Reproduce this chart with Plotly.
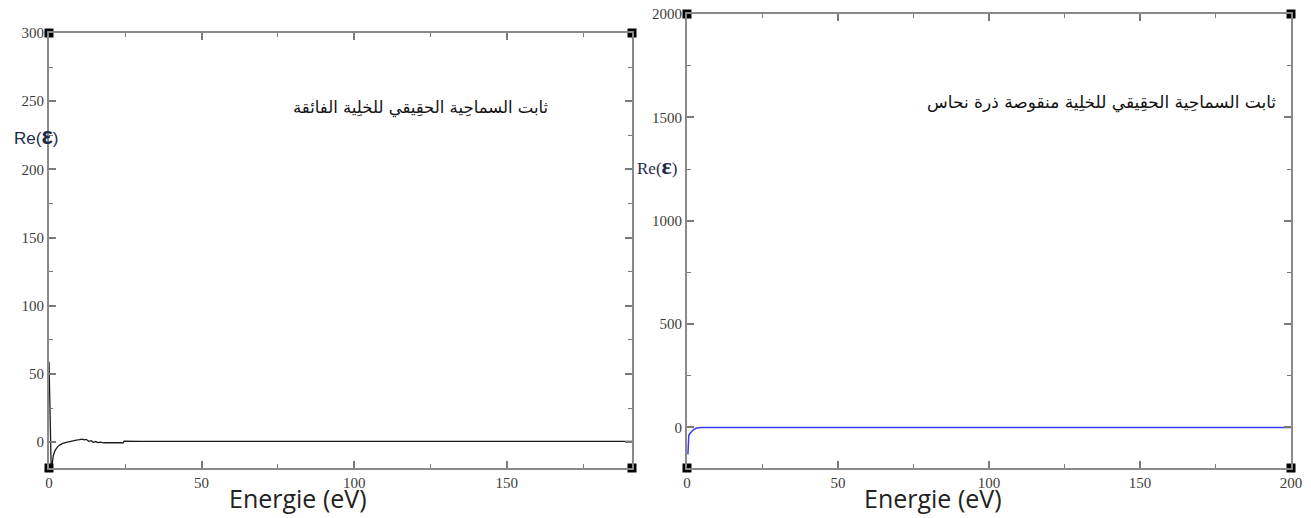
import plotly.graph_objects as go

# Real part of the dielectric function, supercell (left panel)
energy_super = [0, 0.15, 0.3, 0.5, 0.8, 1.0, 1.4, 2.0, 2.8, 3.6, 4.5, 6, 7, 8, 9, 10, 10.8, 11.5, 12.2,
                13, 13.8, 14.5, 15.3, 16, 16.8, 18, 20, 22, 24.3, 24.6, 30, 60, 100, 150, 191]
re_eps_super = [59, 42, 12, -22, -28, -17, -10, -6, -3.5, -2, -1, 0, 0.6, 1.0, 1.5, 1.8, 2.2, 1.6, 2.0,
                0.6, 1.0, -0.2, 0.4, -0.4, 0.0, -0.5, -0.4, -0.5, -0.5, 0.6, 0.5, 0.5, 0.5, 0.5, 0.5]

# Real part of the dielectric function, cell with one Cu vacancy (right panel)
energy_vac = [0.3, 0.35, 0.6, 1.0, 1.5, 2.2, 3.2, 4.0, 4.8, 6, 10, 50, 100, 150, 200]
re_eps_vac = [-130, -48, -38, -28, -18, -10, -3, -1, 0, 0, 0, 0, 0, 0, 0]

x_ticks_left = [0, 50, 100, 150]
y_ticks_left = [0, 50, 100, 150, 200, 250, 300]
x_ticks_right = [0, 50, 100, 150, 200]
y_ticks_right = [0, 500, 1000, 1500, 2000]

x_range_left = [0, 191]
y_range_left = [-19, 300]
x_range_right = [0, 200]
y_range_right = [-196, 2000]

W, H = 1311, 518
frame_left = dict(x0=49, x1=632, y0=33, y1=468)
frame_right = dict(x0=687, x1=1291, y0=14, y1=468)

fig = go.Figure()

fig.add_trace(go.Scatter(x=energy_super, y=re_eps_super, mode="lines",
                         line=dict(color="#1a1a1a", width=1.3), xaxis="x", yaxis="y",
                         showlegend=False))
fig.add_trace(go.Scatter(x=energy_vac, y=re_eps_vac, mode="lines",
                         line=dict(color="#3a3aff", width=1.5), xaxis="x2", yaxis="y2",
                         showlegend=False))

# Corner handles on each frame
for xr, yr, xa, ya in [(x_range_left, y_range_left, "x", "y"),
                       (x_range_right, y_range_right, "x2", "y2")]:
    fig.add_trace(go.Scatter(x=[xr[0], xr[1], xr[0], xr[1]], y=[yr[0], yr[0], yr[1], yr[1]],
                             mode="markers", marker=dict(symbol="square", size=9, color="black"),
                             xaxis=xa, yaxis=ya, cliponaxis=False, showlegend=False,
                             hoverinfo="skip"))


def dom_x(f):
    return [f["x0"] / W, f["x1"] / W]


def dom_y(f):
    return [1 - f["y1"] / H, 1 - f["y0"] / H]


axis_common = dict(showline=True, linecolor="#8a8a8a", linewidth=2, mirror="ticks",
                   ticks="inside", ticklen=7, tickwidth=1.5, tickcolor="#7a7a7a",
                   showgrid=False, zeroline=False, automargin=False,
                   tickfont=dict(family="Liberation Serif", size=15, color="#3c3c3c"))


def minor(d):
    return dict(ticks="inside", ticklen=4, tickwidth=1.2, tickcolor="#7a7a7a", dtick=d,
                showgrid=False)


fig.update_layout(
    width=W, height=H, margin=dict(l=0, r=0, t=0, b=0, autoexpand=False),
    paper_bgcolor="white", plot_bgcolor="white",
    xaxis=dict(domain=dom_x(frame_left), range=x_range_left, tickvals=x_ticks_left,
               anchor="y", minor=minor(25), **axis_common),
    yaxis=dict(domain=dom_y(frame_left), range=y_range_left, tickvals=y_ticks_left,
               anchor="x", minor=minor(25), **axis_common),
    xaxis2=dict(domain=dom_x(frame_right), range=x_range_right, tickvals=x_ticks_right,
                anchor="y2", minor=minor(25), **axis_common),
    yaxis2=dict(domain=dom_y(frame_right), range=y_range_right, tickvals=y_ticks_right,
                anchor="x2", minor=minor(250), **axis_common),
)

ann = []
for cx in (298, 933):
    ann.append(dict(x=cx / W, y=1 - 517 / H, xref="paper", yref="paper", showarrow=False,
                    text="Energie (eV)", xanchor="center", yanchor="bottom",
                    font=dict(family="Open Sans", size=25, color="#222222")))

ann.append(dict(x=36 / W, y=1 - 135 / H, xref="paper", yref="paper", showarrow=False,
                text="Re(<b><span style='font-size:24px'>ε</span></b>)",
                xanchor="center", yanchor="middle",
                font=dict(family="Liberation Sans", size=17, color="#1f2a4a")))
ann.append(dict(x=657 / W, y=1 - 166 / H, xref="paper", yref="paper", showarrow=False,
                text="Re(<b><span style='font-size:24px'>ε</span></b>)",
                xanchor="center", yanchor="middle",
                font=dict(family="Liberation Serif", size=17, color="#1f2a4a")))

ann.append(dict(x=421 / W, y=1 - 108 / H, xref="paper", yref="paper", showarrow=False,
                text="ثابت السماحِية الحقِيقي للخلِية الفائقة",
                xanchor="center", yanchor="middle",
                font=dict(family="DejaVu Sans", size=16.5, color="#111111")))
ann.append(dict(x=1101 / W, y=1 - 103 / H, xref="paper", yref="paper", showarrow=False,
                text="ثابت السماحِية الحقِيقي للخلِية منقوصة ذرة نحاس",
                xanchor="center", yanchor="middle",
                font=dict(family="DejaVu Sans", size=17, color="#111111")))

fig.update_layout(annotations=ann)

fig.write_html("out.html")
